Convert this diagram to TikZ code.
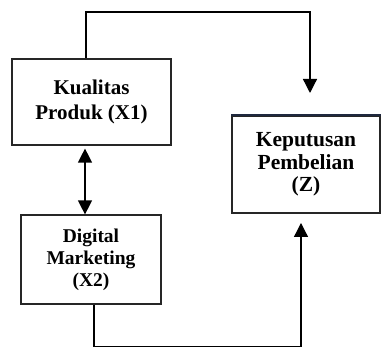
\documentclass[tikz,border=0pt]{standalone}
\usepackage{fontspec}
\setmainfont{Liberation Serif}
\usetikzlibrary{arrows.meta,calc}
\definecolor{edgenavy}{RGB}{31,40,62}

\begin{document}
\begin{tikzpicture}[
                  x = 1pt,
                  y = 1pt,
      box/.style = {draw=black!85, line width=1.2pt, align=center,
                    font=\bfseries, inner sep=0pt},
     link/.style = {draw, line width=1.3pt},
      tip/.style = {-{Triangle[width=14pt,length=14pt]}},
     tips/.style = {{Triangle[width=14pt,length=14pt]}-{Triangle[width=14pt,length=14pt]}},
                   ]
\useasboundingbox (0,0) rectangle (381,347);
\node[box, minimum width=159pt, minimum height=86pt,
      font=\bfseries\fontsize{21}{25}\selectfont] (x1) at (91.5,245)
      {Kualitas\\Produk (X1)};
\node[box, minimum width=140pt, minimum height=89pt,
      font=\bfseries\fontsize{19.5}{22}\selectfont] (x2) at (91,87.5)
      {Digital\\Marketing\\(X2)};
\node[box, minimum width=148pt, minimum height=97pt,
      font=\bfseries\fontsize{21.5}{22.5}\selectfont] (z) at (306,182.5)
      {Keputusan\\Pembelian\\(Z)};
\draw[edgenavy, line width=1.8pt] (z.north west) -- (z.north east);
% corners of the connectors
\coordinate (topL) at (86,335);
\coordinate (topR) at (310,335);
\coordinate (inZ)  at (310,254);
\coordinate (mid)  at (85,0);
\coordinate (botL) at (94,-0.05);
\coordinate (botR) at (301,-0.05);
\coordinate (upZ)  at (301,124);
\draw[link, tip] (x1.north -| topL) -- (topL) -- (topR) -- (inZ);
\draw[link, tips, shorten <=3pt] (x1.south -| mid) -- (x2.north -| mid);
\draw[link, tip] (x2.south -| botL) -- (botL) -- (botR) -- (upZ);
\end{tikzpicture}
\end{document}
